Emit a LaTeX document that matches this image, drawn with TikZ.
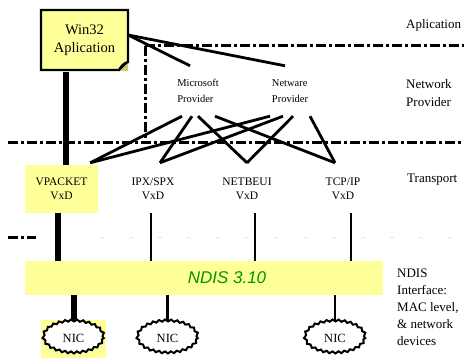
\documentclass[tikz,border=0pt]{standalone}
\usepackage{fontspec}
\setmainfont{Liberation Serif}
\setsansfont{Liberation Sans}
\usetikzlibrary{shapes.geometric,decorations.pathmorphing}
\definecolor{noteyellow}{RGB}{255,255,153}
\definecolor{foldolive}{RGB}{204,204,102}
\definecolor{ndisgreen}{RGB}{0,150,0}

\begin{document}
\begin{tikzpicture}[x=1pt,y=-1pt,
    layer/.style={line width=3pt, dash pattern=on 10pt off 3pt on 3pt off 3pt},
    link/.style={line width=2.8pt},
    fat/.style={line width=6pt},
    slim/.style={line width=2.2pt},
    lbl/.style={align=left, anchor=west, inner sep=0pt, font=\fontsize{13}{18}\selectfont},
    drv/.style={align=center, inner sep=0pt, minimum height=48pt, font=\fontsize{11.5}{14}\selectfont},
    prov/.style={align=left, inner sep=0pt, minimum height=50pt, font=\fontsize{10.5}{16}\selectfont},
    nic/.style={ellipse, draw, fill=white, line width=2pt, minimum width=60pt, minimum height=32pt,
      decorate, decoration={snake, segment length=6pt, amplitude=1pt},
      font=\fontsize{12.5}{14}\selectfont}]
    \useasboundingbox (0,0) rectangle (464,358);

    % layer borders
    \draw[layer] (145,46) -- (464,46);
    \draw[layer] (145,46) -- (145,143);
    \draw[layer] (8,143) -- (464,143);
    \draw[layer] (8,238) -- (36,238);
    \draw[gray!20, line width=1pt, dash pattern=on 4pt off 25pt] (100,238) -- (464,238);

    % application
    \draw[line width=2.2pt, fill=noteyellow] (41,10) -- (128,10) -- (128,62) -- (119,70) -- (41,70) -- cycle;
    \fill[foldolive] (128,63) -- (128,71) -- (120,71) -- cycle;
    \draw[line width=2.2pt] (128,62) .. controls (124,63) and (121,66) .. (119,70);
    \node (app) at (84.5,40) [minimum width=87pt, minimum height=60pt, align=center,
      font=\fontsize{14.5}{18}\selectfont] {Win32\\Aplication};

    % providers
    \node[prov] (ms) at (198,91) {Microsoft\\Provider};
    \node[prov] (nw) at (290,91) {Netware\\Provider};

    % transport drivers
    \node[drv, fill=noteyellow, minimum width=73pt] (vp) at (61.5,189) {VPACKET\\VxD};
    \node[drv] (ipx) at (153,189) {IPX/SPX\\VxD};
    \node[drv] (nb) at (247,189) {NETBEUI\\VxD};
    \node[drv] (tcp) at (343,189) {TCP/IP\\VxD};

    % ndis
    \node[fill=noteyellow, minimum width=358pt, minimum height=34pt] (ndis) at (204,278) {};
    \node[font=\fontsize{17}{20}\selectfont\sffamily\itshape, text=ndisgreen] (ndistxt) at (227,278) {NDIS 3.10};

    % adapters
    \node[fill=noteyellow, minimum width=65pt, minimum height=38pt] (nicbg) at (73.5,339) {};
    \node[nic] (nic1) at (73.5,338) {NIC};
    \node[nic] (nic2) at (167.5,338) {NIC};
    \node[nic] (nic3) at (335,338) {NIC};

    % layer names
    \node[lbl] (lapp) at (406,25) {Aplication};
    \node[lbl] (lnet) at (406,93) {Network\\Provider};
    \node[lbl] (ltra) at (407,180) {Transport};
    \node[lbl, font=\fontsize{13}{17}\selectfont] (lndis) at (397,307) {NDIS\\Interface:\\MAC level,\\\& network\\devices};

    % connections
    \draw[link] ([yshift=5pt]app.east) -- ([xshift=-8pt]ms.north);
    \draw[link] ([yshift=5pt]app.east) -- ([xshift=-5pt]nw.north);

    \draw[link] ([xshift=-16pt]ms.south) -- ([xshift=-8pt,yshift=2pt]vp.north east);
    \draw[link] ([xshift=-6pt]ms.south) -- ([xshift=7pt,yshift=2pt]ipx.north);
    \draw[link] ([xshift=0pt]ms.south) -- ([yshift=2pt]nb.north);
    \draw[link] ([xshift=17pt]ms.south) -- ([xshift=-8pt,yshift=2pt]tcp.north);
    \draw[link] ([xshift=-20pt]nw.south) -- ([xshift=-8pt,yshift=2pt]vp.north east);
    \draw[link] ([xshift=-7pt]nw.south) -- ([xshift=7pt,yshift=2pt]ipx.north);
    \draw[link] ([xshift=3pt]nw.south) -- ([yshift=2pt]nb.north);
    \draw[link] ([xshift=20pt]nw.south) -- ([xshift=-8pt,yshift=2pt]tcp.north);

    \draw[fat] ([xshift=25pt,yshift=-2pt]app.south west) -- ([xshift=25pt]app.south west |- vp.north);
    \draw[fat] ([xshift=-3.5pt]vp.south) -- ([xshift=-3.5pt]vp.south |- ndis.north);
    \draw[slim] ([xshift=-2pt]ipx.south) -- ([xshift=-2pt]ipx.south |- ndis.north);
    \draw[slim] ([xshift=8pt]nb.south) -- ([xshift=8pt]nb.south |- ndis.north);
    \draw[slim] ([xshift=8pt]tcp.south) -- ([xshift=8pt]tcp.south |- ndis.north);

    \draw[fat] (nic1.north |- ndis.south) -- (nic1.north);
    \draw[slim] (nic2.north |- ndis.south) -- (nic2.north);
    \draw[slim] (nic3.north |- ndis.south) -- (nic3.north);
\end{tikzpicture}
\end{document}
